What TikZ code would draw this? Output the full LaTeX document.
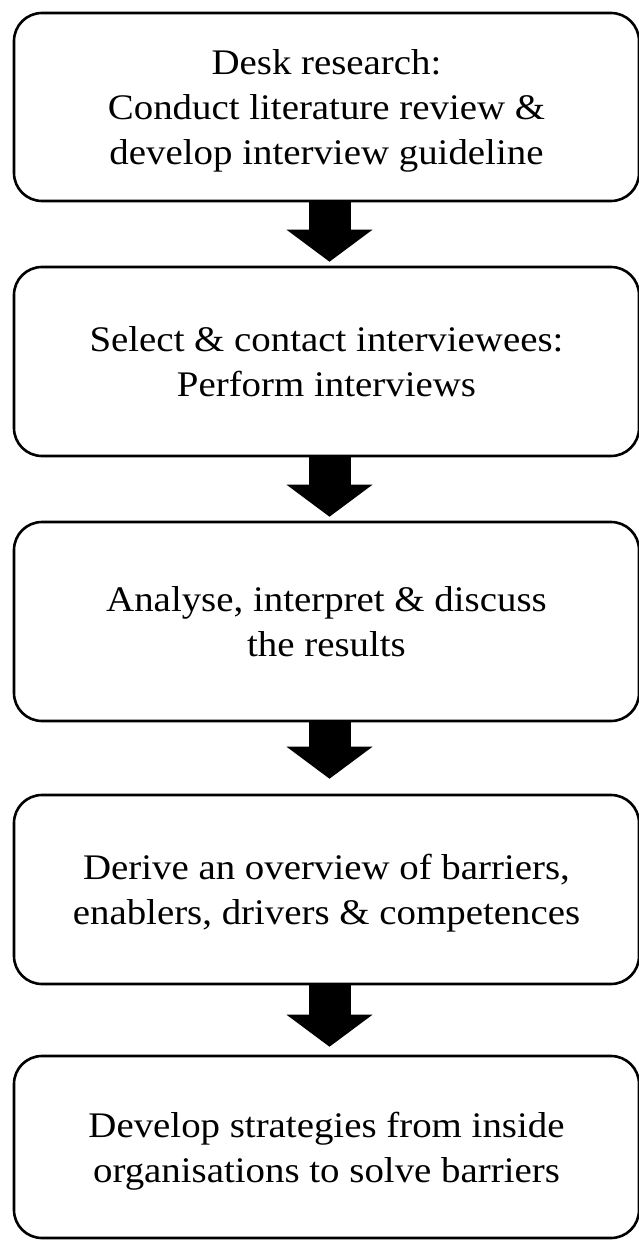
\documentclass[tikz,border=0pt]{standalone}
\usepackage{fontspec}
\setmainfont{Liberation Serif}[FakeStretch=1.08]
\usetikzlibrary{arrows.meta}

\begin{document}
\begin{tikzpicture}[x=0.5pt,y=-0.5pt,
    stage/.style={draw,line width=1.3pt,rounded corners=14pt,minimum width=312.5pt,
      inner sep=0pt,align=center,text depth=0pt,font=\fontsize{18}{22.5}\selectfont},
    fatarrow/.style={line width=21pt,-{Triangle[width=43pt,length=16pt,line width=0pt]}}]
  \useasboundingbox (0,0) rectangle (638,1240);
  \node[stage,minimum height=94pt] (desk) at (326.5,107)
    {Desk research:\\ Conduct literature review \&\\ develop interview guideline};
  \node[stage,minimum height=94.5pt] (select) at (326.5,361.5)
    {Select \& contact interviewees:\\ Perform interviews};
  \node[stage,minimum height=99.5pt] (analyse) at (326.5,621.5)
    {Analyse, interpret \& discuss\\ the results};
  \node[stage,minimum height=94.5pt] (derive) at (326.5,889.5)
    {Derive an overview of barriers,\\ enablers, drivers \& competences};
  \node[stage,minimum height=91pt] (develop) at (326.5,1147)
    {Develop strategies from inside\\ organisations to solve barriers};
  % arrows between the steps
  \draw[fatarrow,shorten >=2pt] ([xshift=1.5pt]desk.south) -- ([xshift=1.5pt]select.north);
  \draw[fatarrow,shorten >=2pt] ([xshift=1.5pt]select.south) -- ([xshift=1.5pt]analyse.north);
  \draw[fatarrow,shorten >=7.5pt] ([xshift=1.5pt]analyse.south) -- ([xshift=1.5pt]derive.north);
  \draw[fatarrow,shorten >=4pt] ([xshift=1.5pt]derive.south) -- ([xshift=1.5pt]develop.north);
\end{tikzpicture}
\end{document}
